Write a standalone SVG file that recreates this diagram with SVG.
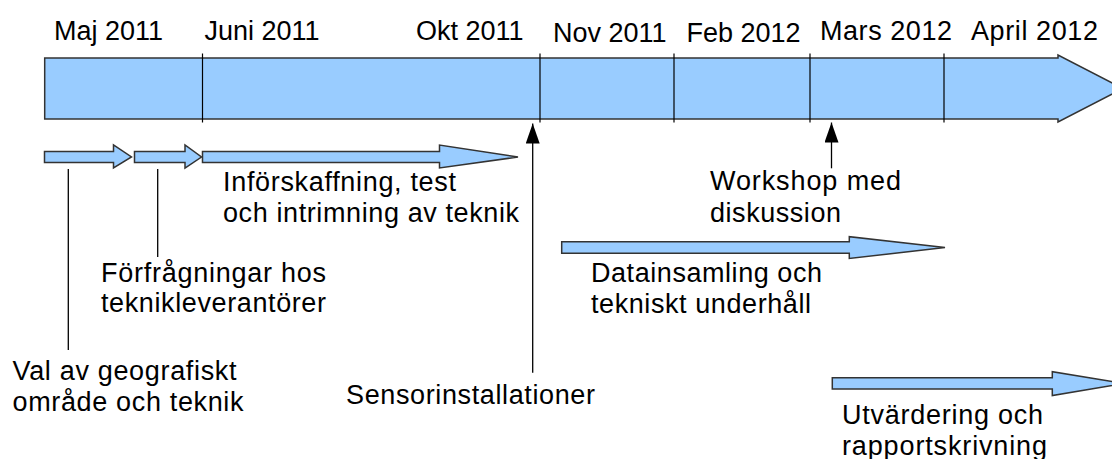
<svg xmlns="http://www.w3.org/2000/svg" width="1112" height="459" viewBox="0 0 1112 459">
  <style>
    .lbl { font-family: "Liberation Sans", Arial, sans-serif; font-size: 27px; fill: #000; }
    .bar { fill: #99ccff; stroke: #333; stroke-width: 1.5; stroke-linejoin: miter; }
    .tick { stroke: #000; stroke-width: 1.2; fill: none; }
    .lead { stroke: #000; stroke-width: 1.3; fill: none; }
  </style>
  <defs>
    <!-- filled triangular head, tip along the line direction -->
    <marker id="up" viewBox="0 0 20 14" refX="20" refY="7" markerWidth="20" markerHeight="14" markerUnits="userSpaceOnUse" orient="auto">
      <path d="M0,0 L20,7 L0,14 Z" fill="#000"/>
    </marker>
  </defs>
  <rect width="1112" height="459" fill="#fff"/>

  <!-- main time axis -->
  <g id="timeline">
    <path class="bar" d="M44.7,58 H1058 V55 L1123,88.5 L1058,122 V119 H44.7 Z"/>
    <line class="tick" x1="202.5" y1="53.5" x2="202.5" y2="122.5"/>
    <line class="tick" x1="540" y1="53.5" x2="540" y2="122.5"/>
    <line class="tick" x1="674" y1="53.5" x2="674" y2="122.5"/>
    <line class="tick" x1="810" y1="53.5" x2="810" y2="122.5"/>
    <line class="tick" x1="944" y1="53.5" x2="944" y2="122.5"/>
  </g>

  <!-- month labels -->
  <g id="months">
    <text class="lbl" x="54" y="39.5">Maj 2011</text>
    <text class="lbl" x="204.5" y="39.5">Juni 2011</text>
    <text class="lbl" x="416" y="39.5">Okt 2011</text>
    <text class="lbl" x="553" y="41.5">Nov 2011</text>
    <text class="lbl" x="686.5" y="41.5">Feb 2012</text>
    <text class="lbl" x="820" y="39.5" textLength="132" lengthAdjust="spacing">Mars 2012</text>
    <text class="lbl" x="971" y="39.5" textLength="127" lengthAdjust="spacing">April 2012</text>
  </g>

  <!-- phase arrows -->
  <g id="val">
    <path class="bar" d="M44.5,151.5 H113.5 V145 L131.5,157 L113.5,168 V162.5 H44.5 Z"/>
    <text class="lbl" x="12.5" y="380" textLength="224" lengthAdjust="spacing">Val av geografiskt</text>
    <text class="lbl" x="12.5" y="411" textLength="231" lengthAdjust="spacing">område och teknik</text>
  </g>
  <g id="forfragningar">
    <path class="bar" d="M134.5,151.5 H185 V145 L201.5,157 L185,168 V162.5 H134.5 Z"/>
    <text class="lbl" x="101" y="281.5" textLength="225" lengthAdjust="spacing">Förfrågningar hos</text>
    <text class="lbl" x="101" y="312" textLength="225" lengthAdjust="spacing">teknikleverantörer</text>
  </g>
  <g id="inforskaffning">
    <path class="bar" d="M202.5,151.5 H439.5 V145 L518,157 L439.5,168 V162.5 H202.5 Z"/>
    <text class="lbl" x="223" y="191" textLength="233" lengthAdjust="spacing">Införskaffning, test</text>
    <text class="lbl" x="223" y="222" textLength="296" lengthAdjust="spacing">och intrimning av teknik</text>
  </g>
  <g id="sensorinstallationer">
    <text class="lbl" x="346" y="404" textLength="249" lengthAdjust="spacing">Sensorinstallationer</text>
  </g>
  <g id="workshop">
    <text class="lbl" x="710" y="190" textLength="191" lengthAdjust="spacing">Workshop med</text>
    <text class="lbl" x="710" y="221.5" textLength="131" lengthAdjust="spacing">diskussion</text>
  </g>
  <g id="datainsamling">
    <path class="bar" d="M561.7,241.7 H849.3 V236.7 L945,247.5 L849.3,258.5 V253.3 H561.7 Z"/>
    <text class="lbl" x="591" y="281.5" textLength="231" lengthAdjust="spacing">Datainsamling och</text>
    <text class="lbl" x="591" y="313" textLength="220" lengthAdjust="spacing">tekniskt underhåll</text>
  </g>
  <g id="utvardering">
    <path class="bar" d="M832.3,377.7 H1052.3 V371.7 L1124,383.5 L1052.3,395.5 V389 H832.3 Z"/>
    <text class="lbl" x="842" y="424" textLength="201" lengthAdjust="spacing">Utvärdering och</text>
    <text class="lbl" x="842" y="455" textLength="205" lengthAdjust="spacing">rapportskrivning</text>
  </g>

  <!-- leader lines and milestone pointers -->
  <g id="connectors">
    <line class="lead" x1="68.3" y1="169" x2="68.3" y2="350"/>
    <line class="lead" x1="157.7" y1="169" x2="157.7" y2="257"/>
    <line class="lead" x1="532.7" y1="372.7" x2="532.7" y2="123.5" marker-end="url(#up)"/>
    <line class="lead" x1="831.5" y1="168.3" x2="831.5" y2="122.5" marker-end="url(#up)"/>
  </g>
</svg>
